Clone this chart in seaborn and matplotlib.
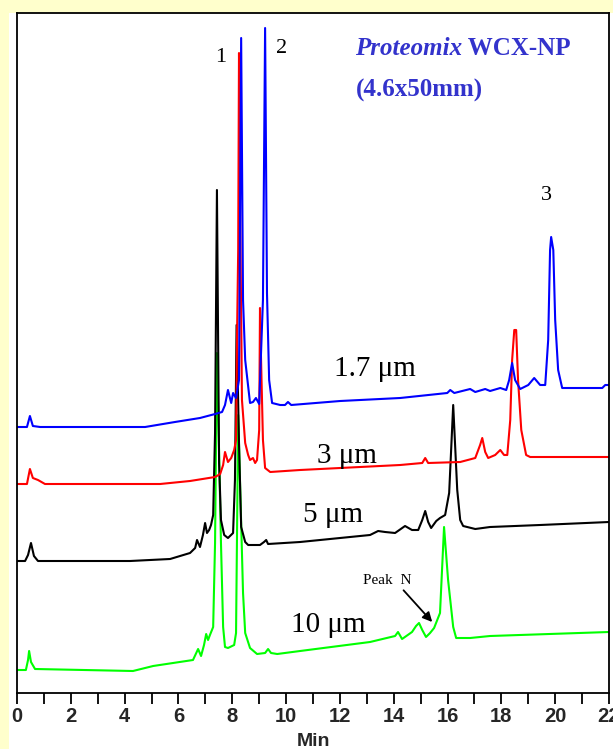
import pandas as pd
import matplotlib.pyplot as plt
import matplotlib.patches as mpatches
import seaborn as sns

sns.set_theme(style="white")
plt.rcParams['font.family'] = ['Liberation Sans', 'DejaVu Sans']

# chromatogram traces: time (min) and detector signal (arb. units)
t_17 = [0.00, 0.37, 0.48, 0.59, 0.86, 4.76, 5.87, 6.80, 7.36, 7.62, 7.73, 7.84, 7.96, 8.03, 8.14,
        8.25, 8.33, 8.40, 8.48, 8.66, 8.77, 8.88, 9.00, 9.14, 9.22, 9.29, 9.37, 9.48, 9.78, 9.96,
        10.07, 10.19, 12.01, 14.24, 15.99, 16.10, 16.25, 16.84, 17.03, 17.40, 17.58, 17.96, 18.18,
        18.29, 18.40, 18.51, 18.70, 19.00, 19.22, 19.44, 19.63, 19.74, 19.81, 19.85, 19.93, 20.00,
        20.11, 20.26, 21.75, 21.86, 22.00]
s_17 = [266, 266, 277, 267, 266, 266, 271, 275, 279, 281, 288, 303, 290, 300, 295,
        313, 655, 393, 333, 290, 291, 295, 289, 393, 665, 400, 313, 290, 288, 288,
        291, 288, 292, 295, 300, 303, 300, 304, 301, 304, 302, 305, 303,
        313, 330, 313, 304, 308, 315, 308, 308, 353, 443, 456, 443, 373,
        323, 305, 305, 308, 308]

t_3 = [0.00, 0.37, 0.48, 0.59, 0.78, 1.04, 5.32, 6.43, 7.36, 7.55, 7.66, 7.73, 7.84, 7.96, 8.07,
       8.14, 8.18, 8.22, 8.25, 8.29, 8.36, 8.48, 8.59, 8.66, 8.77, 8.85, 8.92, 9.00, 9.03, 9.07,
       9.14, 9.22, 9.41, 10.52, 14.24, 15.06, 15.17, 15.28, 16.47, 17.03, 17.21, 17.29, 17.40,
       17.51, 17.77, 17.96, 18.10, 18.22, 18.33, 18.40, 18.48, 18.55, 18.62, 18.74, 18.92, 19.07, 22.00]
s_3 = [209, 209, 224, 215, 213, 209, 209, 212, 216, 219, 228, 241, 231, 235, 243,
       253, 363, 443, 640, 493, 293, 250, 238, 233, 235, 230, 233, 263, 385, 333,
       253, 225, 221, 223, 228, 230, 235, 230, 231, 235, 248, 255, 241,
       235, 238, 243, 238, 238, 273, 333, 363, 363, 313, 263, 238, 236, 236]

t_5 = [0.00, 0.30, 0.41, 0.52, 0.63, 0.78, 4.20, 5.69, 6.43, 6.62, 6.69, 6.80, 6.91, 6.99, 7.06,
       7.14, 7.21, 7.29, 7.36, 7.43, 7.51, 7.58, 7.70, 7.84, 8.03, 8.10, 8.16, 8.25, 8.33, 8.48,
       8.59, 9.03, 9.18, 9.26, 9.33, 10.52, 13.12, 13.42, 13.68, 14.05, 14.42, 14.68, 14.91, 15.06,
       15.17, 15.28, 15.39, 15.58, 15.72, 15.91, 16.06, 16.21, 16.36, 16.47, 16.58,
       17.03, 17.58, 19.44, 22.00]
s_5 = [132, 132, 138, 150, 137, 132, 132, 134, 140, 145, 153, 146, 158, 170, 160,
       163, 168, 178, 260, 503, 230, 173, 158, 155, 160, 213, 368, 250, 166, 151,
       148, 148, 151, 153, 149, 151, 158, 162, 161, 160, 167, 163, 163, 173,
       182, 171, 165, 172, 175, 178, 200, 288, 203, 173, 167,
       164, 166, 168, 171]

t_10 = [0.00, 0.33, 0.41, 0.45, 0.52, 0.67, 4.31, 5.06, 6.54, 6.73, 6.84, 6.95, 7.03, 7.10, 7.17,
        7.29, 7.36, 7.43, 7.51, 7.58, 7.66, 7.73, 7.84, 8.07, 8.14, 8.22, 8.33, 8.40, 8.48, 8.66,
        8.92, 9.22, 9.33, 9.44, 9.67, 10.52, 13.12, 14.05, 14.16, 14.31, 14.68, 14.83, 14.94, 15.06,
        15.20, 15.35, 15.50, 15.72, 15.87, 16.02, 16.21, 16.32, 16.84, 17.58, 22.00]
s_10 = [23, 23, 33, 42, 31, 24, 22, 27, 33, 44, 37, 48, 59, 53, 58,
        66, 150, 340, 240, 150, 66, 46, 45, 48, 60, 278, 170, 100, 60, 45,
        39, 40, 44, 40, 39, 42, 51, 57, 61, 54, 61, 67, 70, 63,
        56, 60, 65, 80, 166, 113, 66, 55, 55, 57, 61]

traces = ["10 μm", "5 μm", "3 μm", "1.7 μm"]
colors = {"10 μm": "#00FF00", "5 μm": "#000000", "3 μm": "#FF0000", "1.7 μm": "#0000FF"}
series = {"10 μm": (t_10, s_10), "5 μm": (t_5, s_5), "3 μm": (t_3, s_3), "1.7 μm": (t_17, s_17)}

# trace labels: (time, signal) where the label baseline sits
label_pos = {"1.7 μm": (13.31, 317), "3 μm": (12.27, 230), "5 μm": (11.75, 171), "10 μm": (11.56, 61)}
peak_names = ["1", "2", "3"]
peak_pos = [(7.58, 631), (9.85, 640), (19.67, 493)]

frames = []
for name in traces:
    t, s = series[name]
    frames.append(pd.DataFrame({"time": t, "signal": s, "trace": name}))
df = pd.concat(frames, ignore_index=True)

fig = plt.figure(figsize=(6.13, 7.49), dpi=100, facecolor="#FFFFCC")
# white panel behind the axes, leaving the yellow strip at left and top
fig.add_artist(mpatches.Rectangle((9 / 613, 0), 1, (749 - 13) / 749, transform=fig.transFigure,
                                  facecolor="white", edgecolor="none", zorder=-10))
ax = fig.add_axes([17 / 613, 56 / 749, 592 / 613, 680 / 749])
ax.set_facecolor("white")

sns.lineplot(data=df, x="time", y="signal", hue="trace", hue_order=traces, palette=colors,
             estimator=None, sort=False, linewidth=1.5, legend=False, ax=ax)

ax.set_xlim(0, 22)
ax.set_ylim(0, 680)
ax.set_xticks(range(0, 23, 2))
ax.set_xticks(range(0, 23, 1), minor=True)
ax.set_yticks([])
ax.tick_params(axis="x", which="both", direction="out", length=8, width=1.3, color="black",
               bottom=True, labelsize=14.5, pad=2)
for lab in ax.get_xticklabels():
    lab.set_fontweight("bold")
ax.set_xlabel("Min", fontsize=14, fontweight="bold", labelpad=5)
ax.set_ylabel("")
for sp in ax.spines.values():
    sp.set_visible(True)
    sp.set_color("black")
    sp.set_linewidth(1.3)

serif = ["Liberation Serif", "DejaVu Serif"]
for name, (x, y) in label_pos.items():
    ax.text(x, y, name, ha="center", va="baseline", fontsize=21, family=serif, color="black")
for name, (x, y) in zip(peak_names, peak_pos):
    ax.text(x, y, name, ha="center", va="baseline", fontsize=16, family=serif, color="black")

title_color = "#3333CC"
t1 = ax.text(12.57, 638, "Proteomix", ha="left", va="baseline", fontsize=18, family=serif,
             fontweight="bold", fontstyle="italic", color=title_color)
ax.annotate(" WCX-NP", xy=(1, 0), xycoords=t1, ha="left", va="bottom", fontsize=18,
            family=serif, fontweight="bold", color=title_color)
ax.text(12.6, 596, "(4.6x50mm)", ha="left", va="baseline", fontsize=18, family=serif,
        fontweight="bold", color=title_color)

ax.annotate("Peak  N", xy=(15.43, 71), xytext=(13.75, 109), ha="center", va="baseline",
            fontsize=11, family=serif, color="black",
            arrowprops=dict(arrowstyle="-|>", color="black", lw=1.3, mutation_scale=14,
                            shrinkA=0, shrinkB=0, relpos=(0.78, 0)))

fig.savefig("out.png", dpi=100, facecolor=fig.get_facecolor())
